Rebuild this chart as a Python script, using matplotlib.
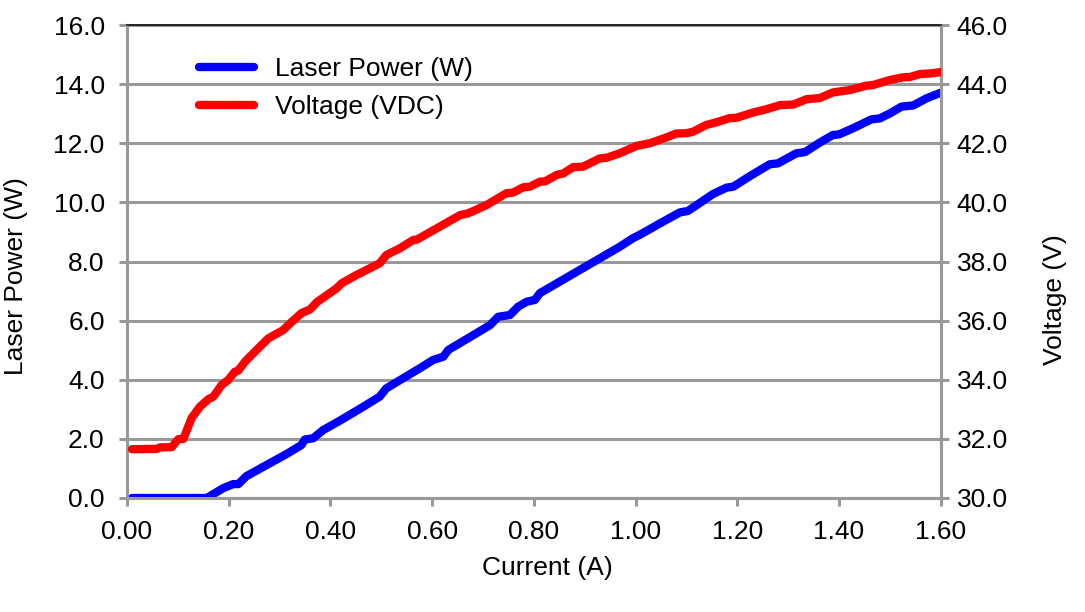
import numpy as np
import matplotlib.pyplot as plt

plt.rcParams['font.family'] = ['Liberation Sans', 'DejaVu Sans']

# laser power vs current
cur_p = [0.01, 0.06, 0.10, 0.157, 0.189, 0.209, 0.219, 0.235, 0.275, 0.314, 0.343,
         0.350, 0.366, 0.386, 0.419, 0.465, 0.497, 0.510, 0.576, 0.602, 0.622, 0.632,
         0.681, 0.714, 0.730, 0.753, 0.769, 0.786, 0.802, 0.812, 0.851, 0.890, 0.930,
         0.969, 0.995, 1.008, 1.048, 1.087, 1.103, 1.152, 1.179, 1.192, 1.225, 1.264,
         1.280, 1.316, 1.333, 1.362, 1.388, 1.400, 1.428, 1.464, 1.480, 1.500, 1.523,
         1.546, 1.572, 1.600]
power = [0.0, 0.0, 0.0, 0.0, 0.33, 0.47, 0.47, 0.74, 1.12, 1.49, 1.79,
         1.98, 2.02, 2.30, 2.62, 3.09, 3.43, 3.71, 4.39, 4.67, 4.78, 5.01,
         5.51, 5.85, 6.13, 6.19, 6.47, 6.64, 6.70, 6.93, 7.32, 7.71, 8.11,
         8.50, 8.79, 8.90, 9.29, 9.66, 9.71, 10.28, 10.50, 10.53, 10.89, 11.29,
         11.32, 11.66, 11.70, 12.02, 12.28, 12.30, 12.51, 12.81, 12.84, 13.01, 13.24,
         13.28, 13.52, 13.71]

# voltage vs current
cur_v = [0.01, 0.058, 0.065, 0.088, 0.101, 0.111, 0.127, 0.1435, 0.160, 0.170, 0.186,
         0.199, 0.212, 0.219, 0.232, 0.255, 0.278, 0.307, 0.324, 0.343, 0.360, 0.373,
         0.412, 0.422, 0.451, 0.497, 0.510, 0.537, 0.563, 0.570, 0.609, 0.655, 0.671,
         0.707, 0.746, 0.759, 0.779, 0.792, 0.812, 0.822, 0.845, 0.858, 0.877, 0.897,
         0.930, 0.943, 0.969, 1.002, 1.028, 1.061, 1.080, 1.100, 1.113, 1.139, 1.159,
         1.185, 1.198, 1.231, 1.257, 1.284, 1.310, 1.336, 1.362, 1.388, 1.421, 1.454,
         1.467, 1.500, 1.526, 1.539, 1.559, 1.585, 1.600]
voltage = [31.65, 31.66, 31.71, 31.72, 31.99, 32.0, 32.70, 33.09, 33.34, 33.43, 33.82,
           33.99, 34.27, 34.31, 34.61, 35.01, 35.40, 35.68, 35.96, 36.25, 36.38, 36.62,
           37.09, 37.26, 37.54, 37.94, 38.22, 38.45, 38.73, 38.74, 39.12, 39.57, 39.63,
           39.91, 40.31, 40.33, 40.51, 40.53, 40.70, 40.71, 40.93, 40.98, 41.19, 41.21,
           41.49, 41.51, 41.66, 41.91, 42.00, 42.20, 42.33, 42.34, 42.39, 42.62, 42.71,
           42.85, 42.86, 43.04, 43.15, 43.29, 43.31, 43.49, 43.53, 43.72, 43.80, 43.95,
           43.97, 44.14, 44.23, 44.24, 44.34, 44.37, 44.41]

x_ticks = np.arange(0, 1.61, 0.2)
p_ticks = np.arange(0, 16.1, 2)
v_ticks = np.arange(30, 46.1, 2)

grid_c = '#999999'
fs = 19

fig = plt.figure(figsize=(10.85, 6.12), dpi=100)
ax = fig.add_axes([0.117, 0.1863, 0.75, 0.7728])
ax2 = ax.twinx()

ax.set_xlim(0, 1.6)
ax.set_ylim(0, 16)
ax2.set_ylim(30, 46)
ax.set_xticks(x_ticks)
ax.set_yticks(p_ticks)
ax2.set_yticks(v_ticks)
ax.set_xticklabels(['%.2f' % t for t in x_ticks])
ax.set_yticklabels(['%.1f' % t for t in p_ticks])
ax2.set_yticklabels(['%.1f' % t for t in v_ticks])

ax.yaxis.grid(True, color=grid_c, lw=2.2)
ax.set_axisbelow(True)

for a in (ax, ax2):
    for s in ('left', 'right', 'bottom'):
        a.spines[s].set_color(grid_c)
        a.spines[s].set_linewidth(2.2)
    a.spines['top'].set_color('#222222')
    a.spines['top'].set_linewidth(1.2)
    a.tick_params(axis='both', colors=grid_c, width=2.2, length=6,
                  labelsize=fs, labelcolor='black')
ax.tick_params(axis='x', pad=10)
ax.tick_params(axis='y', pad=10)
ax2.tick_params(axis='y', pad=5.5)

l1, = ax.plot(cur_p, power, color='#0000ff', lw=6, solid_capstyle='round',
              solid_joinstyle='round', zorder=3)
l2, = ax2.plot(cur_v, voltage, color='#ff0000', lw=6, solid_capstyle='round',
               solid_joinstyle='round', zorder=3)

ax.set_xlabel('Current (A)', fontsize=fs)
ax.xaxis.set_label_coords(0.5166, -0.1226)
ax.set_ylabel('Laser Power (W)', fontsize=fs)
ax.yaxis.set_label_coords(-0.1216, 0.4693)
ax2.set_ylabel('Voltage (V)', fontsize=fs)
ax2.yaxis.set_label_coords(1.1253, 0.4186)

ax2.legend([l1, l2], ['Laser Power (W)', 'Voltage (VDC)'], loc='upper left',
           bbox_to_anchor=(0.0885, 0.932), frameon=False, fontsize=fs,
           borderpad=0, borderaxespad=0,
           handlelength=2.1, handletextpad=0.8, labelspacing=0.53)

fig.savefig('out.png', dpi=100)
